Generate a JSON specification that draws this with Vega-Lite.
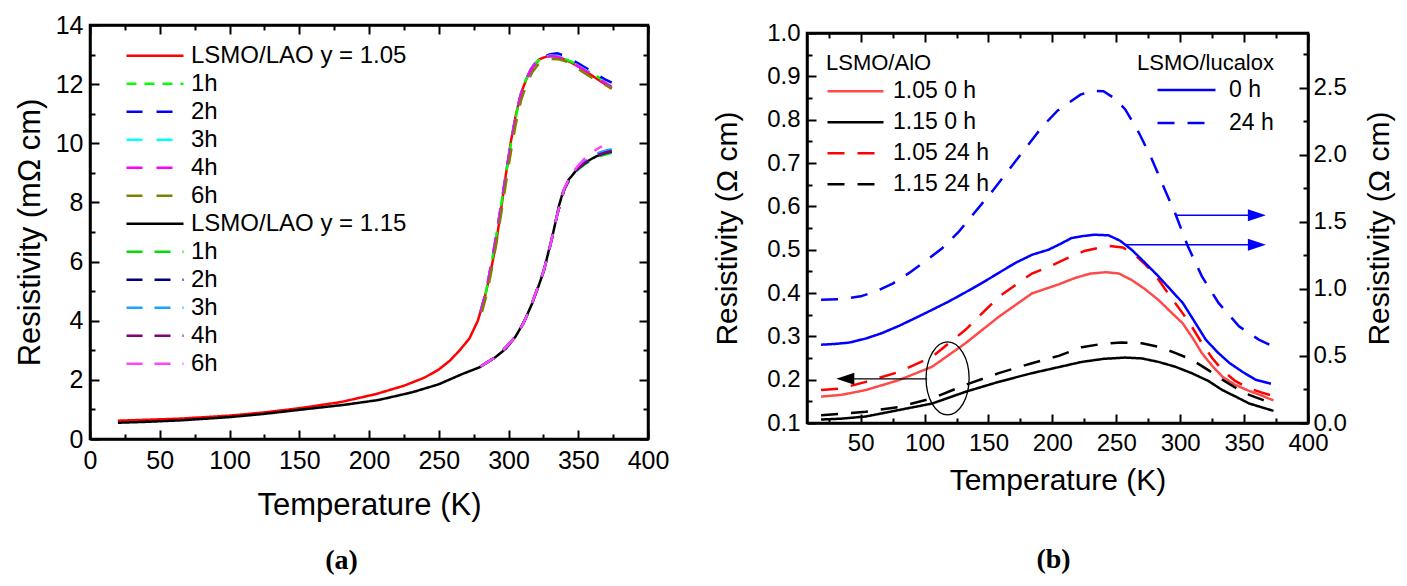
{
  "$schema": "https://vega.github.io/schema/vega-lite/v6.json",
  "background": "white",
  "padding": {"left": 12, "top": 11, "right": 0, "bottom": 0},
  "spacing": 40,
  "config": {
    "font": "Liberation Sans",
    "view": {"stroke": "#000000", "strokeWidth": 2.5},
    "axis": {
      "grid": false,
      "domainColor": "#000000",
      "domainWidth": 2.5,
      "tickColor": "#000000",
      "tickWidth": 2,
      "labelColor": "black",
      "titleColor": "black",
      "labelFont": "Liberation Sans",
      "titleFont": "Liberation Sans",
      "titleFontWeight": "normal",
      "labelFlush": false,
      "labelOverlap": false,
      "zindex": 1
    },
    "legend": {
      "labelFont": "Liberation Sans",
      "titleFont": "Liberation Sans",
      "titleFontWeight": "normal",
      "labelColor": "black",
      "titleColor": "black",
      "labelLimit": 500,
      "titleLimit": 500,
      "symbolType": "stroke",
      "symbolStrokeWidth": 2.5
    },
    "title": {"font": "Liberation Serif", "fontWeight": "bold", "color": "black"}
  },
  "datasets": {
    "lao": [
      {"T": 20, "v": 0.62, "s": "1.05|LSMO/LAO y = 1.05"},
      {"T": 40, "v": 0.65, "s": "1.05|LSMO/LAO y = 1.05"},
      {"T": 65, "v": 0.69, "s": "1.05|LSMO/LAO y = 1.05"},
      {"T": 100, "v": 0.79, "s": "1.05|LSMO/LAO y = 1.05"},
      {"T": 125, "v": 0.9, "s": "1.05|LSMO/LAO y = 1.05"},
      {"T": 150, "v": 1.04, "s": "1.05|LSMO/LAO y = 1.05"},
      {"T": 180, "v": 1.25, "s": "1.05|LSMO/LAO y = 1.05"},
      {"T": 205, "v": 1.52, "s": "1.05|LSMO/LAO y = 1.05"},
      {"T": 225, "v": 1.8, "s": "1.05|LSMO/LAO y = 1.05"},
      {"T": 240, "v": 2.08, "s": "1.05|LSMO/LAO y = 1.05"},
      {"T": 250, "v": 2.35, "s": "1.05|LSMO/LAO y = 1.05"},
      {"T": 258, "v": 2.65, "s": "1.05|LSMO/LAO y = 1.05"},
      {"T": 265, "v": 3.0, "s": "1.05|LSMO/LAO y = 1.05"},
      {"T": 272, "v": 3.4, "s": "1.05|LSMO/LAO y = 1.05"},
      {"T": 278, "v": 4.0, "s": "1.05|LSMO/LAO y = 1.05"},
      {"T": 283, "v": 4.8, "s": "1.05|LSMO/LAO y = 1.05"},
      {"T": 287, "v": 5.6, "s": "1.05|LSMO/LAO y = 1.05"},
      {"T": 291, "v": 6.6, "s": "1.05|LSMO/LAO y = 1.05"},
      {"T": 294.5, "v": 7.7, "s": "1.05|LSMO/LAO y = 1.05"},
      {"T": 298, "v": 8.9, "s": "1.05|LSMO/LAO y = 1.05"},
      {"T": 301.5, "v": 10.0, "s": "1.05|LSMO/LAO y = 1.05"},
      {"T": 305, "v": 10.9, "s": "1.05|LSMO/LAO y = 1.05"},
      {"T": 309, "v": 11.7, "s": "1.05|LSMO/LAO y = 1.05"},
      {"T": 313.5, "v": 12.25, "s": "1.05|LSMO/LAO y = 1.05"},
      {"T": 318, "v": 12.6, "s": "1.05|LSMO/LAO y = 1.05"},
      {"T": 322, "v": 12.84, "s": "1.05|LSMO/LAO y = 1.05"},
      {"T": 327, "v": 12.93, "s": "1.05|LSMO/LAO y = 1.05"},
      {"T": 331, "v": 12.95, "s": "1.05|LSMO/LAO y = 1.05"},
      {"T": 336, "v": 12.9, "s": "1.05|LSMO/LAO y = 1.05"},
      {"T": 342, "v": 12.8, "s": "1.05|LSMO/LAO y = 1.05"},
      {"T": 350, "v": 12.6, "s": "1.05|LSMO/LAO y = 1.05"},
      {"T": 358, "v": 12.35, "s": "1.05|LSMO/LAO y = 1.05"},
      {"T": 366, "v": 12.1, "s": "1.05|LSMO/LAO y = 1.05"},
      {"T": 374, "v": 11.85, "s": "1.05|LSMO/LAO y = 1.05"},

      {"T": 280, "v": 4.3, "s": "1.05|1h"},
      {"T": 284, "v": 5.0, "s": "1.05|1h"},
      {"T": 288, "v": 6.0, "s": "1.05|1h"},
      {"T": 292, "v": 7.1, "s": "1.05|1h"},
      {"T": 296, "v": 8.3, "s": "1.05|1h"},
      {"T": 300, "v": 9.5, "s": "1.05|1h"},
      {"T": 304, "v": 10.6, "s": "1.05|1h"},
      {"T": 308, "v": 11.5, "s": "1.05|1h"},
      {"T": 312, "v": 12.1, "s": "1.05|1h"},
      {"T": 316, "v": 12.5, "s": "1.05|1h"},
      {"T": 320, "v": 12.75, "s": "1.05|1h"},
      {"T": 325, "v": 12.9, "s": "1.05|1h"},
      {"T": 330, "v": 12.95, "s": "1.05|1h"},
      {"T": 335, "v": 12.93, "s": "1.05|1h"},
      {"T": 340, "v": 12.86, "s": "1.05|1h"},
      {"T": 345, "v": 12.76, "s": "1.05|1h"},
      {"T": 350, "v": 12.63, "s": "1.05|1h"},
      {"T": 355, "v": 12.5, "s": "1.05|1h"},
      {"T": 360, "v": 12.36, "s": "1.05|1h"},
      {"T": 365, "v": 12.22, "s": "1.05|1h"},
      {"T": 370, "v": 12.07, "s": "1.05|1h"},
      {"T": 374, "v": 11.95, "s": "1.05|1h"},

      {"T": 280, "v": 4.3, "s": "1.05|2h"},
      {"T": 284, "v": 5.0, "s": "1.05|2h"},
      {"T": 288, "v": 6.0, "s": "1.05|2h"},
      {"T": 292, "v": 7.1, "s": "1.05|2h"},
      {"T": 296, "v": 8.3, "s": "1.05|2h"},
      {"T": 300, "v": 9.5, "s": "1.05|2h"},
      {"T": 304, "v": 10.6, "s": "1.05|2h"},
      {"T": 308, "v": 11.5, "s": "1.05|2h"},
      {"T": 312, "v": 12.1, "s": "1.05|2h"},
      {"T": 316, "v": 12.5, "s": "1.05|2h"},
      {"T": 320, "v": 12.78, "s": "1.05|2h"},
      {"T": 325, "v": 12.94, "s": "1.05|2h"},
      {"T": 330, "v": 13.01, "s": "1.05|2h"},
      {"T": 335, "v": 13.04, "s": "1.05|2h"},
      {"T": 340, "v": 12.96, "s": "1.05|2h"},
      {"T": 345, "v": 12.84, "s": "1.05|2h"},
      {"T": 350, "v": 12.7, "s": "1.05|2h"},
      {"T": 355, "v": 12.56, "s": "1.05|2h"},
      {"T": 360, "v": 12.42, "s": "1.05|2h"},
      {"T": 365, "v": 12.28, "s": "1.05|2h"},
      {"T": 370, "v": 12.14, "s": "1.05|2h"},
      {"T": 374, "v": 12.05, "s": "1.05|2h"},

      {"T": 280, "v": 4.3, "s": "1.05|3h"},
      {"T": 284, "v": 5.0, "s": "1.05|3h"},
      {"T": 288, "v": 6.0, "s": "1.05|3h"},
      {"T": 292, "v": 7.1, "s": "1.05|3h"},
      {"T": 296, "v": 8.3, "s": "1.05|3h"},
      {"T": 300, "v": 9.5, "s": "1.05|3h"},
      {"T": 304, "v": 10.6, "s": "1.05|3h"},
      {"T": 308, "v": 11.5, "s": "1.05|3h"},
      {"T": 312, "v": 12.1, "s": "1.05|3h"},
      {"T": 316, "v": 12.5, "s": "1.05|3h"},
      {"T": 320, "v": 12.76, "s": "1.05|3h"},
      {"T": 325, "v": 12.92, "s": "1.05|3h"},
      {"T": 330, "v": 12.97, "s": "1.05|3h"},
      {"T": 335, "v": 12.95, "s": "1.05|3h"},
      {"T": 340, "v": 12.87, "s": "1.05|3h"},
      {"T": 345, "v": 12.76, "s": "1.05|3h"},
      {"T": 350, "v": 12.62, "s": "1.05|3h"},
      {"T": 355, "v": 12.48, "s": "1.05|3h"},
      {"T": 360, "v": 12.34, "s": "1.05|3h"},
      {"T": 365, "v": 12.19, "s": "1.05|3h"},
      {"T": 370, "v": 12.04, "s": "1.05|3h"},
      {"T": 374, "v": 11.92, "s": "1.05|3h"},

      {"T": 280, "v": 4.3, "s": "1.05|4h"},
      {"T": 284, "v": 5.0, "s": "1.05|4h"},
      {"T": 288, "v": 6.0, "s": "1.05|4h"},
      {"T": 292, "v": 7.1, "s": "1.05|4h"},
      {"T": 296, "v": 8.3, "s": "1.05|4h"},
      {"T": 300, "v": 9.5, "s": "1.05|4h"},
      {"T": 304, "v": 10.6, "s": "1.05|4h"},
      {"T": 308, "v": 11.5, "s": "1.05|4h"},
      {"T": 312, "v": 12.1, "s": "1.05|4h"},
      {"T": 316, "v": 12.5, "s": "1.05|4h"},
      {"T": 320, "v": 12.75, "s": "1.05|4h"},
      {"T": 325, "v": 12.9, "s": "1.05|4h"},
      {"T": 330, "v": 12.95, "s": "1.05|4h"},
      {"T": 335, "v": 12.93, "s": "1.05|4h"},
      {"T": 340, "v": 12.85, "s": "1.05|4h"},
      {"T": 345, "v": 12.74, "s": "1.05|4h"},
      {"T": 350, "v": 12.6, "s": "1.05|4h"},
      {"T": 355, "v": 12.46, "s": "1.05|4h"},
      {"T": 360, "v": 12.32, "s": "1.05|4h"},
      {"T": 365, "v": 12.17, "s": "1.05|4h"},
      {"T": 370, "v": 12.02, "s": "1.05|4h"},
      {"T": 374, "v": 11.9, "s": "1.05|4h"},

      {"T": 281, "v": 4.3, "s": "1.05|6h"},
      {"T": 285, "v": 5.0, "s": "1.05|6h"},
      {"T": 289, "v": 6.0, "s": "1.05|6h"},
      {"T": 293, "v": 7.1, "s": "1.05|6h"},
      {"T": 297, "v": 8.3, "s": "1.05|6h"},
      {"T": 301, "v": 9.5, "s": "1.05|6h"},
      {"T": 305, "v": 10.6, "s": "1.05|6h"},
      {"T": 309, "v": 11.45, "s": "1.05|6h"},
      {"T": 313, "v": 12.0, "s": "1.05|6h"},
      {"T": 317, "v": 12.4, "s": "1.05|6h"},
      {"T": 321, "v": 12.65, "s": "1.05|6h"},
      {"T": 326, "v": 12.8, "s": "1.05|6h"},
      {"T": 331, "v": 12.85, "s": "1.05|6h"},
      {"T": 336, "v": 12.84, "s": "1.05|6h"},
      {"T": 341, "v": 12.77, "s": "1.05|6h"},
      {"T": 346, "v": 12.64, "s": "1.05|6h"},
      {"T": 351, "v": 12.48, "s": "1.05|6h"},
      {"T": 356, "v": 12.33, "s": "1.05|6h"},
      {"T": 361, "v": 12.18, "s": "1.05|6h"},
      {"T": 366, "v": 12.05, "s": "1.05|6h"},
      {"T": 371, "v": 11.93, "s": "1.05|6h"},
      {"T": 374, "v": 11.85, "s": "1.05|6h"},

      {"T": 20, "v": 0.55, "s": "1.15|LSMO/LAO y = 1.15"},
      {"T": 40, "v": 0.58, "s": "1.15|LSMO/LAO y = 1.15"},
      {"T": 65, "v": 0.63, "s": "1.15|LSMO/LAO y = 1.15"},
      {"T": 100, "v": 0.74, "s": "1.15|LSMO/LAO y = 1.15"},
      {"T": 125, "v": 0.85, "s": "1.15|LSMO/LAO y = 1.15"},
      {"T": 147, "v": 0.97, "s": "1.15|LSMO/LAO y = 1.15"},
      {"T": 183, "v": 1.16, "s": "1.15|LSMO/LAO y = 1.15"},
      {"T": 207, "v": 1.32, "s": "1.15|LSMO/LAO y = 1.15"},
      {"T": 231, "v": 1.58, "s": "1.15|LSMO/LAO y = 1.15"},
      {"T": 250, "v": 1.85, "s": "1.15|LSMO/LAO y = 1.15"},
      {"T": 267, "v": 2.2, "s": "1.15|LSMO/LAO y = 1.15"},
      {"T": 279, "v": 2.42, "s": "1.15|LSMO/LAO y = 1.15"},
      {"T": 291, "v": 2.78, "s": "1.15|LSMO/LAO y = 1.15"},
      {"T": 298, "v": 3.05, "s": "1.15|LSMO/LAO y = 1.15"},
      {"T": 305, "v": 3.46, "s": "1.15|LSMO/LAO y = 1.15"},
      {"T": 311, "v": 3.95, "s": "1.15|LSMO/LAO y = 1.15"},
      {"T": 317, "v": 4.59, "s": "1.15|LSMO/LAO y = 1.15"},
      {"T": 321, "v": 5.1, "s": "1.15|LSMO/LAO y = 1.15"},
      {"T": 325.5, "v": 5.71, "s": "1.15|LSMO/LAO y = 1.15"},
      {"T": 328.5, "v": 6.3, "s": "1.15|LSMO/LAO y = 1.15"},
      {"T": 331.4, "v": 6.84, "s": "1.15|LSMO/LAO y = 1.15"},
      {"T": 334, "v": 7.4, "s": "1.15|LSMO/LAO y = 1.15"},
      {"T": 336, "v": 7.86, "s": "1.15|LSMO/LAO y = 1.15"},
      {"T": 339, "v": 8.35, "s": "1.15|LSMO/LAO y = 1.15"},
      {"T": 343, "v": 8.76, "s": "1.15|LSMO/LAO y = 1.15"},
      {"T": 348, "v": 9.05, "s": "1.15|LSMO/LAO y = 1.15"},
      {"T": 353, "v": 9.27, "s": "1.15|LSMO/LAO y = 1.15"},
      {"T": 358, "v": 9.43, "s": "1.15|LSMO/LAO y = 1.15"},
      {"T": 362.5, "v": 9.55, "s": "1.15|LSMO/LAO y = 1.15"},
      {"T": 368, "v": 9.65, "s": "1.15|LSMO/LAO y = 1.15"},
      {"T": 374, "v": 9.72, "s": "1.15|LSMO/LAO y = 1.15"},

      {"T": 280, "v": 2.45, "s": "1.15|1h"},
      {"T": 285, "v": 2.6, "s": "1.15|1h"},
      {"T": 290, "v": 2.75, "s": "1.15|1h"},
      {"T": 295, "v": 2.95, "s": "1.15|1h"},
      {"T": 300, "v": 3.2, "s": "1.15|1h"},
      {"T": 305, "v": 3.46, "s": "1.15|1h"},
      {"T": 310, "v": 3.85, "s": "1.15|1h"},
      {"T": 315, "v": 4.35, "s": "1.15|1h"},
      {"T": 320, "v": 5.0, "s": "1.15|1h"},
      {"T": 325, "v": 5.65, "s": "1.15|1h"},
      {"T": 330, "v": 6.55, "s": "1.15|1h"},
      {"T": 335, "v": 7.6, "s": "1.15|1h"},
      {"T": 340, "v": 8.45, "s": "1.15|1h"},
      {"T": 345, "v": 8.88, "s": "1.15|1h"},
      {"T": 350, "v": 9.12, "s": "1.15|1h"},
      {"T": 355, "v": 9.3, "s": "1.15|1h"},
      {"T": 360, "v": 9.44, "s": "1.15|1h"},
      {"T": 365, "v": 9.56, "s": "1.15|1h"},
      {"T": 370, "v": 9.63, "s": "1.15|1h"},
      {"T": 374, "v": 9.68, "s": "1.15|1h"},

      {"T": 280, "v": 2.45, "s": "1.15|2h"},
      {"T": 285, "v": 2.6, "s": "1.15|2h"},
      {"T": 290, "v": 2.75, "s": "1.15|2h"},
      {"T": 295, "v": 2.95, "s": "1.15|2h"},
      {"T": 300, "v": 3.2, "s": "1.15|2h"},
      {"T": 305, "v": 3.46, "s": "1.15|2h"},
      {"T": 310, "v": 3.85, "s": "1.15|2h"},
      {"T": 315, "v": 4.35, "s": "1.15|2h"},
      {"T": 320, "v": 5.0, "s": "1.15|2h"},
      {"T": 325, "v": 5.65, "s": "1.15|2h"},
      {"T": 330, "v": 6.55, "s": "1.15|2h"},
      {"T": 335, "v": 7.6, "s": "1.15|2h"},
      {"T": 340, "v": 8.45, "s": "1.15|2h"},
      {"T": 345, "v": 8.9, "s": "1.15|2h"},
      {"T": 350, "v": 9.15, "s": "1.15|2h"},
      {"T": 355, "v": 9.33, "s": "1.15|2h"},
      {"T": 360, "v": 9.48, "s": "1.15|2h"},
      {"T": 365, "v": 9.6, "s": "1.15|2h"},
      {"T": 370, "v": 9.68, "s": "1.15|2h"},
      {"T": 374, "v": 9.72, "s": "1.15|2h"},

      {"T": 280, "v": 2.45, "s": "1.15|3h"},
      {"T": 285, "v": 2.6, "s": "1.15|3h"},
      {"T": 290, "v": 2.75, "s": "1.15|3h"},
      {"T": 295, "v": 2.95, "s": "1.15|3h"},
      {"T": 300, "v": 3.2, "s": "1.15|3h"},
      {"T": 305, "v": 3.46, "s": "1.15|3h"},
      {"T": 310, "v": 3.85, "s": "1.15|3h"},
      {"T": 315, "v": 4.35, "s": "1.15|3h"},
      {"T": 320, "v": 5.0, "s": "1.15|3h"},
      {"T": 325, "v": 5.65, "s": "1.15|3h"},
      {"T": 330, "v": 6.55, "s": "1.15|3h"},
      {"T": 335, "v": 7.6, "s": "1.15|3h"},
      {"T": 340, "v": 8.45, "s": "1.15|3h"},
      {"T": 345, "v": 8.92, "s": "1.15|3h"},
      {"T": 350, "v": 9.2, "s": "1.15|3h"},
      {"T": 355, "v": 9.4, "s": "1.15|3h"},
      {"T": 360, "v": 9.56, "s": "1.15|3h"},
      {"T": 365, "v": 9.68, "s": "1.15|3h"},
      {"T": 370, "v": 9.76, "s": "1.15|3h"},
      {"T": 374, "v": 9.8, "s": "1.15|3h"},

      {"T": 280, "v": 2.45, "s": "1.15|4h"},
      {"T": 285, "v": 2.6, "s": "1.15|4h"},
      {"T": 290, "v": 2.75, "s": "1.15|4h"},
      {"T": 295, "v": 2.95, "s": "1.15|4h"},
      {"T": 300, "v": 3.2, "s": "1.15|4h"},
      {"T": 305, "v": 3.46, "s": "1.15|4h"},
      {"T": 310, "v": 3.85, "s": "1.15|4h"},
      {"T": 315, "v": 4.35, "s": "1.15|4h"},
      {"T": 320, "v": 5.0, "s": "1.15|4h"},
      {"T": 325, "v": 5.65, "s": "1.15|4h"},
      {"T": 330, "v": 6.55, "s": "1.15|4h"},
      {"T": 335, "v": 7.6, "s": "1.15|4h"},
      {"T": 340, "v": 8.45, "s": "1.15|4h"},
      {"T": 345, "v": 8.9, "s": "1.15|4h"},
      {"T": 350, "v": 9.16, "s": "1.15|4h"},
      {"T": 355, "v": 9.35, "s": "1.15|4h"},
      {"T": 360, "v": 9.5, "s": "1.15|4h"},
      {"T": 365, "v": 9.62, "s": "1.15|4h"},
      {"T": 370, "v": 9.7, "s": "1.15|4h"},
      {"T": 374, "v": 9.74, "s": "1.15|4h"},

      {"T": 280, "v": 2.45, "s": "1.15|6h"},
      {"T": 285, "v": 2.6, "s": "1.15|6h"},
      {"T": 290, "v": 2.75, "s": "1.15|6h"},
      {"T": 295, "v": 2.95, "s": "1.15|6h"},
      {"T": 300, "v": 3.2, "s": "1.15|6h"},
      {"T": 305, "v": 3.46, "s": "1.15|6h"},
      {"T": 310, "v": 3.85, "s": "1.15|6h"},
      {"T": 315, "v": 4.35, "s": "1.15|6h"},
      {"T": 320, "v": 5.0, "s": "1.15|6h"},
      {"T": 325, "v": 5.65, "s": "1.15|6h"},
      {"T": 330, "v": 6.55, "s": "1.15|6h"},
      {"T": 335, "v": 7.6, "s": "1.15|6h"},
      {"T": 340, "v": 8.48, "s": "1.15|6h"},
      {"T": 345, "v": 8.95, "s": "1.15|6h"},
      {"T": 350, "v": 9.25, "s": "1.15|6h"},
      {"T": 355, "v": 9.5, "s": "1.15|6h"},
      {"T": 360, "v": 9.7, "s": "1.15|6h"},
      {"T": 364, "v": 9.82, "s": "1.15|6h"},
      {"T": 367, "v": 9.9, "s": "1.15|6h"}
    ],
    "alo": [
      {"T": 19, "v": 0.161, "s": "1.05 0 h"},
      {"T": 35, "v": 0.165, "s": "1.05 0 h"},
      {"T": 54, "v": 0.176, "s": "1.05 0 h"},
      {"T": 80, "v": 0.199, "s": "1.05 0 h"},
      {"T": 106, "v": 0.23, "s": "1.05 0 h"},
      {"T": 132, "v": 0.284, "s": "1.05 0 h"},
      {"T": 158, "v": 0.345, "s": "1.05 0 h"},
      {"T": 184, "v": 0.399, "s": "1.05 0 h"},
      {"T": 205, "v": 0.42, "s": "1.05 0 h"},
      {"T": 218, "v": 0.435, "s": "1.05 0 h"},
      {"T": 230, "v": 0.445, "s": "1.05 0 h"},
      {"T": 242, "v": 0.448, "s": "1.05 0 h"},
      {"T": 252, "v": 0.445, "s": "1.05 0 h"},
      {"T": 262, "v": 0.43, "s": "1.05 0 h"},
      {"T": 272, "v": 0.41, "s": "1.05 0 h"},
      {"T": 283, "v": 0.384, "s": "1.05 0 h"},
      {"T": 292, "v": 0.358, "s": "1.05 0 h"},
      {"T": 302, "v": 0.33, "s": "1.05 0 h"},
      {"T": 310, "v": 0.295, "s": "1.05 0 h"},
      {"T": 317, "v": 0.261, "s": "1.05 0 h"},
      {"T": 325, "v": 0.232, "s": "1.05 0 h"},
      {"T": 333, "v": 0.207, "s": "1.05 0 h"},
      {"T": 343, "v": 0.188, "s": "1.05 0 h"},
      {"T": 354, "v": 0.174, "s": "1.05 0 h"},
      {"T": 364, "v": 0.163, "s": "1.05 0 h"},
      {"T": 373, "v": 0.152, "s": "1.05 0 h"},

      {"T": 19, "v": 0.108, "s": "1.15 0 h"},
      {"T": 35, "v": 0.11, "s": "1.15 0 h"},
      {"T": 54, "v": 0.115, "s": "1.15 0 h"},
      {"T": 80, "v": 0.13, "s": "1.15 0 h"},
      {"T": 106, "v": 0.145, "s": "1.15 0 h"},
      {"T": 132, "v": 0.172, "s": "1.15 0 h"},
      {"T": 158, "v": 0.195, "s": "1.15 0 h"},
      {"T": 184, "v": 0.215, "s": "1.15 0 h"},
      {"T": 205, "v": 0.229, "s": "1.15 0 h"},
      {"T": 223, "v": 0.241, "s": "1.15 0 h"},
      {"T": 240, "v": 0.248, "s": "1.15 0 h"},
      {"T": 257, "v": 0.251, "s": "1.15 0 h"},
      {"T": 270, "v": 0.249, "s": "1.15 0 h"},
      {"T": 283, "v": 0.241, "s": "1.15 0 h"},
      {"T": 296, "v": 0.23, "s": "1.15 0 h"},
      {"T": 309, "v": 0.215, "s": "1.15 0 h"},
      {"T": 322, "v": 0.197, "s": "1.15 0 h"},
      {"T": 333, "v": 0.176, "s": "1.15 0 h"},
      {"T": 344, "v": 0.16, "s": "1.15 0 h"},
      {"T": 354, "v": 0.145, "s": "1.15 0 h"},
      {"T": 364, "v": 0.136, "s": "1.15 0 h"},
      {"T": 373, "v": 0.128, "s": "1.15 0 h"},

      {"T": 19, "v": 0.176, "s": "1.05 24 h"},
      {"T": 35, "v": 0.18, "s": "1.05 24 h"},
      {"T": 54, "v": 0.195, "s": "1.05 24 h"},
      {"T": 80, "v": 0.218, "s": "1.05 24 h"},
      {"T": 106, "v": 0.253, "s": "1.05 24 h"},
      {"T": 132, "v": 0.315, "s": "1.05 24 h"},
      {"T": 158, "v": 0.391, "s": "1.05 24 h"},
      {"T": 184, "v": 0.445, "s": "1.05 24 h"},
      {"T": 197, "v": 0.46, "s": "1.05 24 h"},
      {"T": 210, "v": 0.478, "s": "1.05 24 h"},
      {"T": 225, "v": 0.497, "s": "1.05 24 h"},
      {"T": 244, "v": 0.509, "s": "1.05 24 h"},
      {"T": 255, "v": 0.505, "s": "1.05 24 h"},
      {"T": 263, "v": 0.492, "s": "1.05 24 h"},
      {"T": 273, "v": 0.465, "s": "1.05 24 h"},
      {"T": 283, "v": 0.431, "s": "1.05 24 h"},
      {"T": 292, "v": 0.393, "s": "1.05 24 h"},
      {"T": 302, "v": 0.353, "s": "1.05 24 h"},
      {"T": 310, "v": 0.318, "s": "1.05 24 h"},
      {"T": 317, "v": 0.284, "s": "1.05 24 h"},
      {"T": 325, "v": 0.25, "s": "1.05 24 h"},
      {"T": 333, "v": 0.222, "s": "1.05 24 h"},
      {"T": 343, "v": 0.197, "s": "1.05 24 h"},
      {"T": 354, "v": 0.18, "s": "1.05 24 h"},
      {"T": 364, "v": 0.17, "s": "1.05 24 h"},
      {"T": 373, "v": 0.162, "s": "1.05 24 h"},

      {"T": 19, "v": 0.118, "s": "1.15 24 h"},
      {"T": 35, "v": 0.121, "s": "1.15 24 h"},
      {"T": 54, "v": 0.126, "s": "1.15 24 h"},
      {"T": 80, "v": 0.137, "s": "1.15 24 h"},
      {"T": 106, "v": 0.157, "s": "1.15 24 h"},
      {"T": 132, "v": 0.188, "s": "1.15 24 h"},
      {"T": 158, "v": 0.215, "s": "1.15 24 h"},
      {"T": 184, "v": 0.238, "s": "1.15 24 h"},
      {"T": 205, "v": 0.255, "s": "1.15 24 h"},
      {"T": 223, "v": 0.275, "s": "1.15 24 h"},
      {"T": 240, "v": 0.283, "s": "1.15 24 h"},
      {"T": 254, "v": 0.286, "s": "1.15 24 h"},
      {"T": 270, "v": 0.284, "s": "1.15 24 h"},
      {"T": 283, "v": 0.276, "s": "1.15 24 h"},
      {"T": 296, "v": 0.262, "s": "1.15 24 h"},
      {"T": 309, "v": 0.246, "s": "1.15 24 h"},
      {"T": 322, "v": 0.222, "s": "1.15 24 h"},
      {"T": 333, "v": 0.2, "s": "1.15 24 h"},
      {"T": 344, "v": 0.18, "s": "1.15 24 h"},
      {"T": 354, "v": 0.165, "s": "1.15 24 h"},
      {"T": 364, "v": 0.154, "s": "1.15 24 h"},
      {"T": 373, "v": 0.145, "s": "1.15 24 h"}
    ],
    "lucalox": [
      {"T": 19, "r": 0.584, "s": "0 h"},
      {"T": 30, "r": 0.59, "s": "0 h"},
      {"T": 41, "r": 0.6, "s": "0 h"},
      {"T": 54, "r": 0.63, "s": "0 h"},
      {"T": 67, "r": 0.672, "s": "0 h"},
      {"T": 80, "r": 0.725, "s": "0 h"},
      {"T": 93, "r": 0.784, "s": "0 h"},
      {"T": 106, "r": 0.845, "s": "0 h"},
      {"T": 119, "r": 0.907, "s": "0 h"},
      {"T": 132, "r": 0.975, "s": "0 h"},
      {"T": 145, "r": 1.045, "s": "0 h"},
      {"T": 158, "r": 1.12, "s": "0 h"},
      {"T": 171, "r": 1.194, "s": "0 h"},
      {"T": 184, "r": 1.255, "s": "0 h"},
      {"T": 197, "r": 1.293, "s": "0 h"},
      {"T": 206, "r": 1.335, "s": "0 h"},
      {"T": 215, "r": 1.38, "s": "0 h"},
      {"T": 224, "r": 1.395, "s": "0 h"},
      {"T": 233, "r": 1.405, "s": "0 h"},
      {"T": 244, "r": 1.4, "s": "0 h"},
      {"T": 253, "r": 1.36, "s": "0 h"},
      {"T": 262, "r": 1.293, "s": "0 h"},
      {"T": 272, "r": 1.2, "s": "0 h"},
      {"T": 283, "r": 1.094, "s": "0 h"},
      {"T": 292, "r": 1.0, "s": "0 h"},
      {"T": 302, "r": 0.896, "s": "0 h"},
      {"T": 311, "r": 0.76, "s": "0 h"},
      {"T": 320, "r": 0.622, "s": "0 h"},
      {"T": 329, "r": 0.53, "s": "0 h"},
      {"T": 338.5, "r": 0.448, "s": "0 h"},
      {"T": 349, "r": 0.38, "s": "0 h"},
      {"T": 359, "r": 0.323, "s": "0 h"},
      {"T": 371, "r": 0.293, "s": "0 h"},

      {"T": 19, "r": 0.92, "s": "24 h"},
      {"T": 36, "r": 0.925, "s": "24 h"},
      {"T": 50, "r": 0.945, "s": "24 h"},
      {"T": 62, "r": 0.982, "s": "24 h"},
      {"T": 75, "r": 1.04, "s": "24 h"},
      {"T": 88, "r": 1.12, "s": "24 h"},
      {"T": 101, "r": 1.21, "s": "24 h"},
      {"T": 114, "r": 1.306, "s": "24 h"},
      {"T": 127, "r": 1.43, "s": "24 h"},
      {"T": 140, "r": 1.58, "s": "24 h"},
      {"T": 153, "r": 1.73, "s": "24 h"},
      {"T": 166, "r": 1.89, "s": "24 h"},
      {"T": 179, "r": 2.05, "s": "24 h"},
      {"T": 192, "r": 2.21, "s": "24 h"},
      {"T": 204, "r": 2.33, "s": "24 h"},
      {"T": 213, "r": 2.39, "s": "24 h"},
      {"T": 222, "r": 2.45, "s": "24 h"},
      {"T": 231, "r": 2.48, "s": "24 h"},
      {"T": 240, "r": 2.475, "s": "24 h"},
      {"T": 249, "r": 2.42, "s": "24 h"},
      {"T": 257, "r": 2.34, "s": "24 h"},
      {"T": 262, "r": 2.26, "s": "24 h"},
      {"T": 268, "r": 2.16, "s": "24 h"},
      {"T": 278, "r": 1.965, "s": "24 h"},
      {"T": 288, "r": 1.74, "s": "24 h"},
      {"T": 296, "r": 1.567, "s": "24 h"},
      {"T": 306, "r": 1.318, "s": "24 h"},
      {"T": 317, "r": 1.094, "s": "24 h"},
      {"T": 330, "r": 0.896, "s": "24 h"},
      {"T": 346, "r": 0.721, "s": "24 h"},
      {"T": 361.5, "r": 0.622, "s": "24 h"},
      {"T": 371, "r": 0.58, "s": "24 h"}
    ],
    "arrowLeft": [{"from": 102, "to": 38, "v": 0.202}],
    "arrowRight": [
      {"from": 296.5, "to": 360, "r": 1.55},
      {"from": 257, "to": 360, "r": 1.33}
    ],
    "ellipse": [{"T": 118, "v": 0.203}],
    "none": []
  },
  "hconcat": [
    {
      "width": 558,
      "height": 414,
      "view": {"stroke": "#000000", "strokeWidth": 2.5},
      "title": {"text": "(a)", "orient": "bottom", "frame": "bounds", "anchor": "middle", "fontSize": 28, "offset": 27},
      "data": {"name": "lao"},
      "layer": [
        {
          "mark": {"type": "line", "strokeWidth": 2.5},
          "encoding": {
            "x": {
              "field": "T", "type": "quantitative",
              "scale": {"domain": [0, 400], "nice": false, "zero": false},
              "axis": {
                "title": "Temperature (K)", "titleFontSize": 31, "labelFontSize": 25, "titlePadding": 13,
                "values": [0, 25, 50, 75, 100, 125, 150, 175, 200, 225, 250, 275, 300, 325, 350, 375, 400],
                "labelExpr": "datum.value % 50 === 0 ? datum.label : ''",
                "tickSize": {"condition": {"test": "datum.value % 50 === 0", "value": -9}, "value": -5},
                "labelPadding": 18
              }
            },
            "y": {
              "field": "v", "type": "quantitative",
              "scale": {"domain": [0, 14], "nice": false},
              "axis": {
                "title": "Resistivity (mΩ cm)", "titleFontSize": 31, "labelFontSize": 25, "titlePadding": 9,
                "values": [0, 1, 2, 3, 4, 5, 6, 7, 8, 9, 10, 11, 12, 13, 14],
                "labelExpr": "datum.value % 2 === 0 ? datum.label : ''",
                "tickSize": {"condition": {"test": "datum.value % 2 === 0", "value": -9}, "value": -5},
                "labelPadding": 16
              }
            },
            "color": {
              "field": "s", "type": "nominal",
              "scale": {
                "domain": ["1.05|LSMO/LAO y = 1.05", "1.05|1h", "1.05|2h", "1.05|3h", "1.05|4h", "1.05|6h", "1.15|LSMO/LAO y = 1.15", "1.15|1h", "1.15|2h", "1.15|3h", "1.15|4h", "1.15|6h"],
                "range": ["#ff0000", "#00ff00", "#0000ff", "#00ffff", "#ff00ff", "#808000", "#000000", "#00dd00", "#000080", "#1aa3ff", "#800080", "#ff44ff"]
              },
              "legend": {
                "title": null, "orient": "none", "legendX": 35, "legendY": 17,
                "labelFontSize": 24, "symbolSize": 3249, "clipHeight": 27.5, "labelExpr": "split(datum.label, '|')[1]",
                "rowPadding": 0, "labelOffset": 6
              }
            },
            "strokeDash": {
              "field": "s", "type": "nominal",
              "scale": {
                "domain": ["1.05|LSMO/LAO y = 1.05", "1.05|1h", "1.05|2h", "1.05|3h", "1.05|4h", "1.05|6h", "1.15|LSMO/LAO y = 1.15", "1.15|1h", "1.15|2h", "1.15|3h", "1.15|4h", "1.15|6h"],
                "range": [[1, 0], [10, 8], [16, 14], [16, 14], [16, 14], [16, 14], [1, 0], [16, 12], [16, 12], [16, 12], [16, 12], [16, 12]]
              },
              "legend": {
                "title": null, "orient": "none", "legendX": 35, "legendY": 17,
                "labelFontSize": 24, "symbolSize": 3249, "clipHeight": 27.5, "labelExpr": "split(datum.label, '|')[1]",
                "rowPadding": 0, "labelOffset": 6
              }
            }
          }
        },
        {
          "mark": {"type": "point", "opacity": 0},
          "encoding": {
            "x": {
              "field": "T", "type": "quantitative",
              "scale": {"domain": [0, 400], "nice": false, "zero": false},
              "axis": {
                "orient": "top", "title": null, "labels": false,
                "values": [0, 25, 50, 75, 100, 125, 150, 175, 200, 225, 250, 275, 300, 325, 350, 375, 400],
                "tickSize": {"condition": {"test": "datum.value % 50 === 0", "value": -9}, "value": -5}
              }
            },
            "y": {
              "field": "v", "type": "quantitative",
              "scale": {"domain": [0, 14], "nice": false},
              "axis": {
                "orient": "right", "title": null, "labels": false,
                "values": [0, 1, 2, 3, 4, 5, 6, 7, 8, 9, 10, 11, 12, 13, 14],
                "tickSize": {"condition": {"test": "datum.value % 2 === 0", "value": -9}, "value": -5}
              }
            }
          }
        }
      ],
      "resolve": {"axis": {"x": "independent", "y": "independent"}}
    },
    {
      "spacing": -7,
      "vconcat": [
        {
          "width": 10,
          "height": 1,
          "view": {"stroke": null},
          "data": {"name": "none"},
          "mark": "point"
        },
        {
          "width": 501,
          "height": 390,
          "view": {"stroke": "#000000", "strokeWidth": 2.5},
          "title": {"text": "(b)", "orient": "bottom", "frame": "bounds", "anchor": "middle", "fontSize": 28, "offset": 51},
          "layer": [
            {
              "data": {"name": "alo"},
              "mark": {"type": "line", "strokeWidth": 2.5},
              "encoding": {
                "x": {
                  "field": "T", "type": "quantitative",
                  "scale": {"domain": [8, 400], "nice": false, "zero": false},
                  "axis": {
                    "title": "Temperature (K)", "titleFontSize": 30, "labelFontSize": 24, "titlePadding": 6,
                    "values": [25, 50, 75, 100, 125, 150, 175, 200, 225, 250, 275, 300, 325, 350, 375, 400],
                    "labelExpr": "datum.value % 50 === 0 ? datum.label : ''",
                    "tickSize": {"condition": {"test": "datum.value % 50 === 0", "value": -9}, "value": -5},
                    "labelPadding": 17
                  }
                },
                "y": {
                  "field": "v", "type": "quantitative",
                  "scale": {"domain": [0.1, 1.0], "nice": false, "zero": false},
                  "axis": {
                    "title": "Resistivity (Ω cm)", "titleFontSize": 30, "labelFontSize": 24, "titlePadding": 24,
                    "values": [0.1, 0.15, 0.2, 0.25, 0.3, 0.35, 0.4, 0.45, 0.5, 0.55, 0.6, 0.65, 0.7, 0.75, 0.8, 0.85, 0.9, 0.95, 1.0],
                    "labelExpr": "round(datum.value * 100) % 10 === 0 ? format(datum.value, '.1f') : ''",
                    "tickSize": {"condition": {"test": "round(datum.value * 100) % 10 === 0", "value": -9}, "value": -5},
                    "labelPadding": 16
                  }
                },
                "color": {
                  "field": "s", "type": "nominal",
                  "scale": {"domain": ["1.05 0 h", "1.15 0 h", "1.05 24 h", "1.15 24 h"], "range": ["#ff4a4a", "#000000", "#ff0000", "#000000"]},
                  "legend": {"title": "LSMO/AlO", "orient": "none", "legendX": 19, "legendY": 20, "titleFontSize": 22, "labelFontSize": 23, "symbolSize": 3136, "clipHeight": 30.6, "rowPadding": 0, "labelOffset": 8, "titlePadding": 1}
                },
                "strokeDash": {
                  "field": "s", "type": "nominal",
                  "scale": {"domain": ["1.05 0 h", "1.15 0 h", "1.05 24 h", "1.15 24 h"], "range": [[1, 0], [1, 0], [17, 13], [17, 13]]},
                  "legend": {"title": "LSMO/AlO", "orient": "none", "legendX": 19, "legendY": 20, "titleFontSize": 22, "labelFontSize": 23, "symbolSize": 3136, "clipHeight": 30.6, "rowPadding": 0, "labelOffset": 8, "titlePadding": 1}
                }
              }
            },
            {
              "data": {"name": "lucalox"},
              "mark": {"type": "line", "strokeWidth": 2.5},
              "encoding": {
                "x": {
                  "field": "T", "type": "quantitative",
                  "scale": {"domain": [8, 400], "nice": false, "zero": false},
                  "axis": {
                    "orient": "top", "title": null, "labels": false,
                    "values": [25, 50, 75, 100, 125, 150, 175, 200, 225, 250, 275, 300, 325, 350, 375, 400],
                    "tickSize": {"condition": {"test": "datum.value % 50 === 0", "value": -9}, "value": -5}
                  }
                },
                "y": {
                  "field": "r", "type": "quantitative",
                  "scale": {"domain": [0, 2.91], "nice": false},
                  "axis": {
                    "orient": "right", "title": "Resistivity (Ω cm)", "titleFontSize": 30, "labelFontSize": 24, "titlePadding": 18, "titleAngle": -90, "titleBaseline": "top",
                    "values": [0, 0.25, 0.5, 0.75, 1.0, 1.25, 1.5, 1.75, 2.0, 2.25, 2.5, 2.75],
                    "labelExpr": "round(datum.value * 100) % 50 === 0 ? format(datum.value, '.1f') : ''",
                    "tickSize": {"condition": {"test": "round(datum.value * 100) % 50 === 0", "value": -9}, "value": -5},
                    "labelPadding": 14
                  }
                },
                "color": {
                  "field": "s", "type": "nominal",
                  "scale": {"domain": ["0 h", "24 h"], "range": ["#0000ff", "#0000ff"]},
                  "legend": {"title": "LSMO/lucalox", "orient": "none", "legendX": 330, "legendY": 20, "titleAnchor": "end", "titleFontSize": 22, "labelFontSize": 23, "symbolSize": 3364, "clipHeight": 33, "rowPadding": 0, "labelOffset": 12, "titlePadding": -1.5}
                },
                "strokeDash": {
                  "field": "s", "type": "nominal",
                  "scale": {"domain": ["0 h", "24 h"], "range": [[1, 0], [17, 13]]},
                  "legend": {"title": "LSMO/lucalox", "orient": "none", "legendX": 330, "legendY": 20, "titleAnchor": "end", "titleFontSize": 22, "labelFontSize": 23, "symbolSize": 3364, "clipHeight": 33, "rowPadding": 0, "labelOffset": 12, "titlePadding": -1.5}
                }
              }
            },
            {
              "data": {"name": "arrowLeft"},
              "layer": [
                {
                  "mark": {"type": "rule", "color": "black", "strokeWidth": 1.3},
                  "encoding": {
                    "x": {"field": "from", "type": "quantitative", "axis": null},
                    "x2": {"field": "to"},
                    "y": {"field": "v", "type": "quantitative", "scale": {"domain": [0.1, 1.0], "nice": false, "zero": false}, "axis": null}
                  }
                },
                {
                  "mark": {"type": "point", "shape": "M1,-0.67L-1,0L1,0.67Z", "filled": true, "color": "black", "opacity": 1, "size": 324},
                  "encoding": {
                    "x": {"field": "to", "type": "quantitative", "axis": null},
                    "y": {"field": "v", "type": "quantitative", "scale": {"domain": [0.1, 1.0], "nice": false, "zero": false}, "axis": null}
                  }
                }
              ]
            },
            {
              "data": {"name": "ellipse"},
              "mark": {"type": "point", "shape": "M0,-1A0.59,1 0 1,1 0,1A0.59,1 0 1,1 0,-1Z", "filled": false, "color": "black", "strokeWidth": 1.3, "opacity": 1, "size": 5329},
              "encoding": {
                "x": {"field": "T", "type": "quantitative", "axis": null},
                "y": {"field": "v", "type": "quantitative", "scale": {"domain": [0.1, 1.0], "nice": false, "zero": false}, "axis": null}
              }
            },
            {
              "data": {"name": "arrowRight"},
              "layer": [
                {
                  "mark": {"type": "rule", "color": "#0000ff", "strokeWidth": 1.3},
                  "encoding": {
                    "x": {"field": "from", "type": "quantitative", "axis": null},
                    "x2": {"field": "to"},
                    "y": {"field": "r", "type": "quantitative", "scale": {"domain": [0, 2.91], "nice": false}, "axis": null}
                  }
                },
                {
                  "mark": {"type": "point", "shape": "M-1,-0.67L1,0L-1,0.67Z", "filled": true, "color": "#0000ff", "opacity": 1, "size": 324},
                  "encoding": {
                    "x": {"field": "to", "type": "quantitative", "axis": null},
                    "y": {"field": "r", "type": "quantitative", "scale": {"domain": [0, 2.91], "nice": false}, "axis": null}
                  }
                }
              ]
            }
          ],
          "resolve": {
            "scale": {"y": "independent", "color": "independent", "strokeDash": "independent"},
            "axis": {"x": "independent", "y": "independent"}
          }
        }
      ]
    }
  ]
}
